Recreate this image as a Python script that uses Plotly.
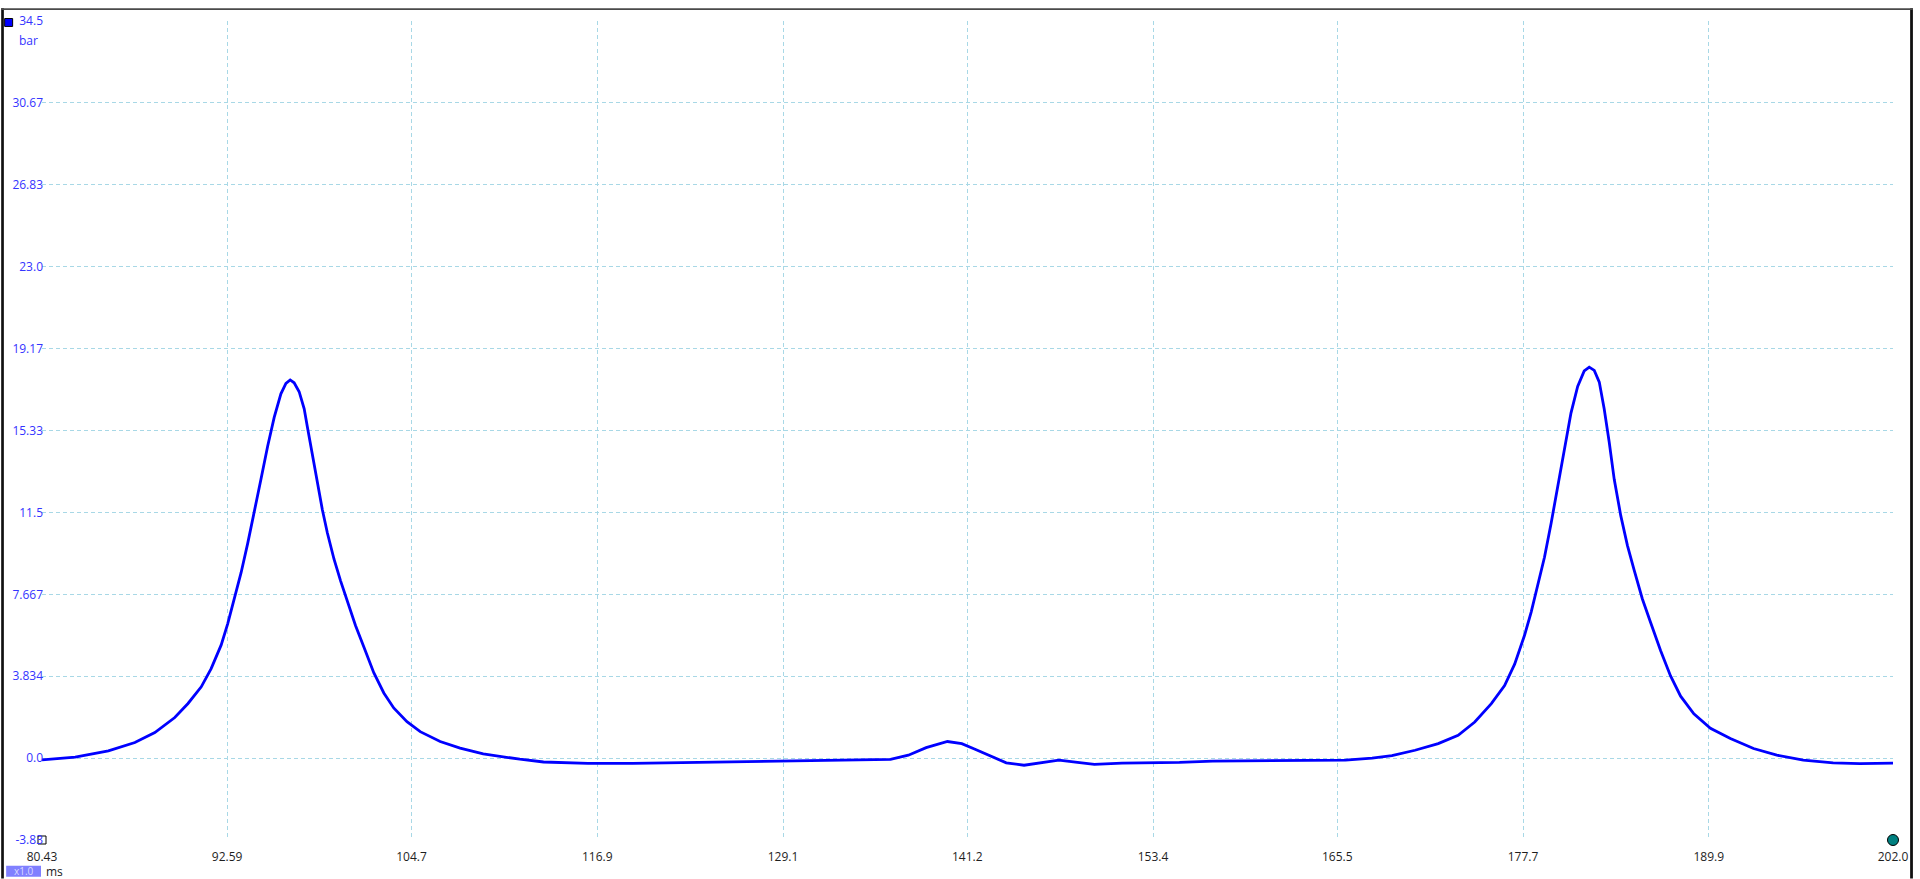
import plotly.graph_objects as go

# ---- data ----
time_ms = [80.43, 82.61, 84.79, 86.53, 87.84, 89.15, 90.02, 90.89, 91.54, 92.20,
           92.63, 93.07, 93.51, 93.94, 94.38, 94.81, 95.25, 95.68, 96.12, 96.45,
           96.73, 96.99, 97.32, 97.65, 97.86, 98.19, 98.52, 98.84, 99.17, 99.61,
           100.04, 100.48, 101.02, 101.57, 102.22, 102.88, 103.53, 104.40, 105.27, 106.58,
           107.89, 109.41, 110.94, 111.81, 113.37, 116.29, 119.21, 122.13, 125.06, 127.97,
           130.90, 133.82, 136.16, 137.33, 138.50, 139.90, 140.84, 141.71, 142.59, 143.76,
           144.93, 146.09, 147.22, 148.44, 149.55, 151.36, 153.40, 155.14, 157.32, 159.50,
           161.68, 163.86, 166.04, 167.79, 169.09, 170.61, 172.13, 173.44, 174.53, 175.62,
           176.49, 177.15, 177.80, 178.24, 178.67, 179.11, 179.55, 179.98, 180.42, 180.85,
           181.29, 181.72, 182.05, 182.38, 182.71, 183.03, 183.36, 183.69, 184.12, 184.56,
           185.00, 185.54, 186.08, 186.74, 187.39, 188.05, 188.92, 190.01, 191.32, 192.84,
           194.37, 196.11, 198.07, 199.82, 202.0]
pressure_bar = [-0.08, 0.05, 0.34, 0.73, 1.20, 1.90, 2.56, 3.34, 4.19, 5.30,
                6.30, 7.50, 8.69, 10.05, 11.49, 13.05, 14.60, 15.95, 17.05, 17.54,
                17.70, 17.57, 17.15, 16.35, 15.50, 14.15, 12.85, 11.64, 10.55, 9.31,
                8.30, 7.35, 6.21, 5.20, 4.00, 3.05, 2.35, 1.71, 1.24, 0.78,
                0.47, 0.20, 0.03, -0.05, -0.18, -0.24, -0.24, -0.21, -0.17, -0.14,
                -0.12, -0.11, -0.06, 0.14, 0.49, 0.78, 0.68, 0.42, 0.14, -0.22,
                -0.33, -0.20, -0.09, -0.20, -0.29, -0.23, -0.22, -0.20, -0.14, -0.12,
                -0.11, -0.11, -0.09, 0.0, 0.12, 0.37, 0.68, 1.07, 1.69, 2.55,
                3.40, 4.40, 5.75, 6.85, 8.06, 9.40, 11.01, 12.75, 14.55, 16.15,
                17.40, 18.12, 18.30, 18.15, 17.60, 16.35, 14.80, 13.05, 11.35, 9.95,
                8.80, 7.45, 6.35, 5.03, 3.85, 2.90, 2.08, 1.40, 0.92, 0.45,
                0.14, -0.09, -0.22, -0.26, -0.23]

x_ticks = [80.43, 92.59, 104.7, 116.9, 129.1, 141.2, 153.4, 165.5, 177.7, 189.9, 202.0]
x_tick_labels = ["80.43", "92.59", "104.7", "116.9", "129.1", "141.2", "153.4",
                 "165.5", "177.7", "189.9", "202.0"]
y_ticks = [-3.83, 0.0, 3.834, 7.667, 11.5, 15.33, 19.17, 23.0, 26.83, 30.67, 34.5]
y_tick_labels = ["-3.83", "0.0", "3.834", "7.667", "11.5", "15.33", "19.17",
                 "23.0", "26.83", "30.67", "34.5"]
x_range = [80.43, 202.0]
y_range = [-3.83, 34.5]
y_unit = "bar"
x_unit = "ms"
zoom_label = "x1.0"

# ---- layout geometry (pixels) ----
W, H = 1920, 879
ML, MR, MT, MB = 41, 20, 13, 39
PW, PH = W - ML - MR, H - MT - MB


def px(x):
    return (x - ML) / PW


def py(y):
    return (H - MB - y) / PH


FONT = "Segoe UI, Open Sans, Noto Sans, sans-serif"
GRID = "#a8d8e6"
BLUE_TXT = "#3434ff"

fig = go.Figure()
fig.add_trace(go.Scatter(
    x=time_ms, y=pressure_bar, mode="lines",
    line=dict(color="#0000ff", width=2.8, shape="linear"),
    showlegend=False, hoverinfo="skip",
))
# cursor markers at the plot corners
fig.add_trace(go.Scatter(
    x=[x_range[0]], y=[y_range[0]], mode="markers", cliponaxis=False,
    marker=dict(symbol="square", size=8, color="white", line=dict(color="black", width=1)),
    showlegend=False, hoverinfo="skip",
))
fig.add_trace(go.Scatter(
    x=[x_range[1]], y=[y_range[0]], mode="markers", cliponaxis=False,
    marker=dict(symbol="circle", size=11, color="#008080", line=dict(color="black", width=1)),
    showlegend=False, hoverinfo="skip",
))

axis_common = dict(
    showgrid=True, gridcolor=GRID, gridwidth=1, griddash="4px,3px",
    zeroline=False, showline=False, ticks="", fixedrange=True,
)
fig.update_xaxes(range=x_range, tickmode="array", tickvals=x_ticks, ticktext=x_tick_labels,
                 tickfont=dict(family=FONT, size=12, color="#1e1e1e"), ticklabelstandoff=8,
                 **axis_common)
fig.update_yaxes(range=y_range, tickmode="array", tickvals=y_ticks, ticktext=y_tick_labels,
                 tickfont=dict(family=FONT, size=12, color=BLUE_TXT), ticklabelstandoff=-2,
                 **axis_common)

shapes = [
    # window frame
    dict(type="rect", xref="paper", yref="paper", x0=px(0), x1=px(2.7), y0=py(H), y1=py(0),
         fillcolor="#111111", line=dict(width=0)),
    dict(type="rect", xref="paper", yref="paper", x0=px(1917.2), x1=px(W), y0=py(H), y1=py(0),
         fillcolor="#111111", line=dict(width=0)),
    dict(type="rect", xref="paper", yref="paper", x0=px(0), x1=px(W), y0=py(2), y1=py(0),
         fillcolor="#4a4a4a", line=dict(width=0)),
    # channel indicator square
    dict(type="rect", xref="paper", yref="paper", x0=px(3.5), x1=px(11.5), y0=py(18.5), y1=py(10.5),
         fillcolor="#0000ff", line=dict(color="black", width=1)),
    # zoom box
    dict(type="rect", xref="paper", yref="paper", x0=px(5), x1=px(40), y0=py(877), y1=py(866),
         fillcolor="#8080ff", line=dict(width=0)),
]

annotations = [
    dict(text=y_unit, xref="paper", yref="paper", x=px(39), y=py(32.5), xanchor="right",
         yanchor="middle", showarrow=False, font=dict(family=FONT, size=12, color=BLUE_TXT)),
    dict(text=zoom_label, xref="paper", yref="paper", x=px(22.5), y=py(871.5), xanchor="center",
         yanchor="middle", showarrow=False, font=dict(family=FONT, size=10, color="#d8d8ff")),
    dict(text=x_unit, xref="paper", yref="paper", x=px(43), y=py(871.5), xanchor="left",
         yanchor="middle", showarrow=False, font=dict(family=FONT, size=12, color="#222222")),
]

fig.update_layout(
    width=W, height=H, autosize=False,
    margin=dict(l=ML, r=MR, t=MT, b=MB, pad=0),
    paper_bgcolor="white", plot_bgcolor="white",
    shapes=shapes, annotations=annotations,
    showlegend=False,
)

fig.write_html("out.html", config={"displayModeBar": False},
               post_script="document.body.style.margin='0';document.body.style.overflow='hidden';")
